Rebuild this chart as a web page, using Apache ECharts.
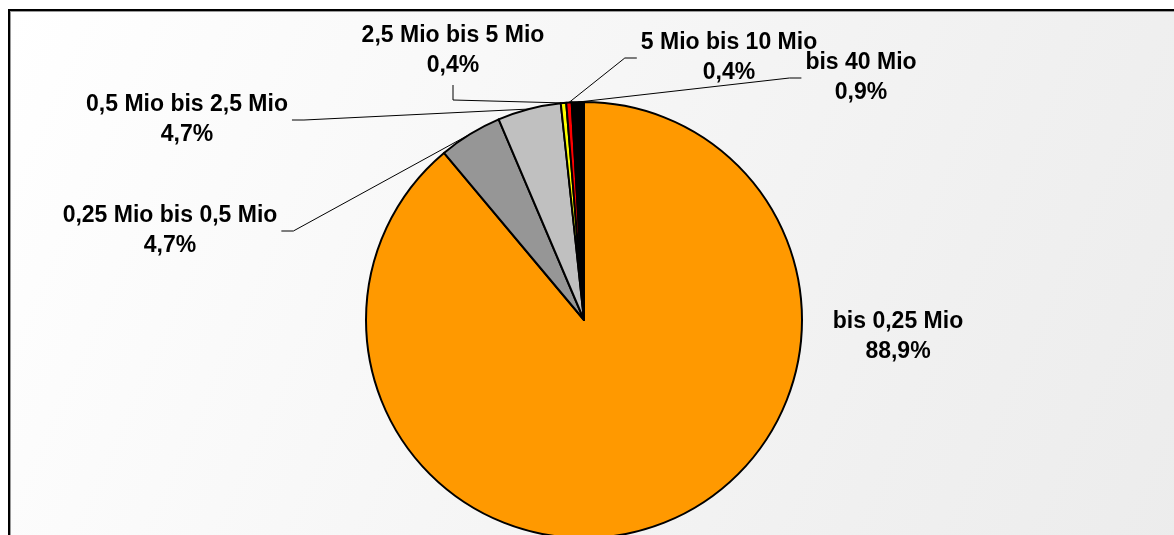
<!DOCTYPE html>
<html><head><meta charset="utf-8">
<script src="https://cdn.jsdelivr.net/npm/echarts@6/dist/echarts.min.js"></script>
<style>
html,body{margin:0;padding:0;background:#fff;width:1174px;height:535px;overflow:hidden}
#frame{position:absolute;left:8px;top:9px;width:1180px;height:540px;border-left:2px solid #000;border-top:2px solid #000;box-shadow:inset 1px 1px 0 #9a9a9a;background:linear-gradient(114deg,#ffffff 0%,#f0f0f0 75%,#ececec 100%)}
#chart{position:absolute;left:0;top:0;width:1174px;height:535px}
</style></head><body>
<div id="frame"></div><div id="chart"></div>
<script>
const categories = ['bis 0,25 Mio', '0,25 Mio bis 0,5 Mio', '0,5 Mio bis 2,5 Mio', '2,5 Mio bis 5 Mio', '5 Mio bis 10 Mio', 'bis 40 Mio'];
const shares = [88.9, 4.7, 4.7, 0.4, 0.4, 0.9];
const sliceColors = ['#FF9900', '#969696', '#C0C0C0', '#FFFF00', '#FF0000', '#000000'];
// label box centres and the side from which each leader line leaves the label
const labelCenters = [[898, 337], [170, 231], [187, 120], [453, 51], [729, 58], [861, 78]];
const leaderSides = [null, 'right', 'right', 'bottom', 'left', 'left'];

const chart = echarts.init(document.getElementById('chart'), null, {renderer: 'canvas'});
const data = categories.map((name, i) => ({
  name: name,
  value: shares[i],
  itemStyle: {color: sliceColors[i]},
  labelLine: {show: leaderSides[i] !== null}
}));

chart.setOption({
  animation: false,
  backgroundColor: 'transparent',
  series: [{
    type: 'pie',
    center: [584, 320],
    radius: 218,
    startAngle: 90,
    clockwise: true,
    avoidLabelOverlap: false,
    data: data,
    itemStyle: {borderColor: '#000', borderWidth: 2},
    emphasis: {disabled: true},
    label: {
      show: true,
      position: 'outside',
      color: '#000',
      fontFamily: 'Liberation Sans, Arial, sans-serif',
      fontWeight: 'bold',
      fontSize: 23,
      lineHeight: 30,
      padding: [4, 4],
      align: 'center',
      formatter: p => p.name + '\n' + p.value.toFixed(1).replace('.', ',') + '%'
    },
    labelLine: {show: true, length: 15, length2: 15, lineStyle: {color: '#000', width: 1}},
    labelLayout: function (p) {
      const i = p.dataIndex;
      const c = labelCenters[i];
      const w = p.labelRect.width, h = p.labelRect.height;
      const res = {x: c[0], y: c[1], align: 'center', verticalAlign: 'middle'};
      const side = leaderSides[i];
      if (side && p.labelLinePoints) {
        const edge = p.labelLinePoints[0];
        let a, b;
        if (side === 'right') { a = [c[0] + w / 2, c[1]]; b = [a[0] + 12, a[1]]; }
        else if (side === 'left') { a = [c[0] - w / 2, c[1]]; b = [a[0] - 12, a[1]]; }
        else { a = [c[0], c[1] + h / 2]; b = [a[0], a[1] + 15]; }
        res.labelLinePoints = [edge, b, a];
      }
      return res;
    }
  }]
});
</script>
</body></html>
